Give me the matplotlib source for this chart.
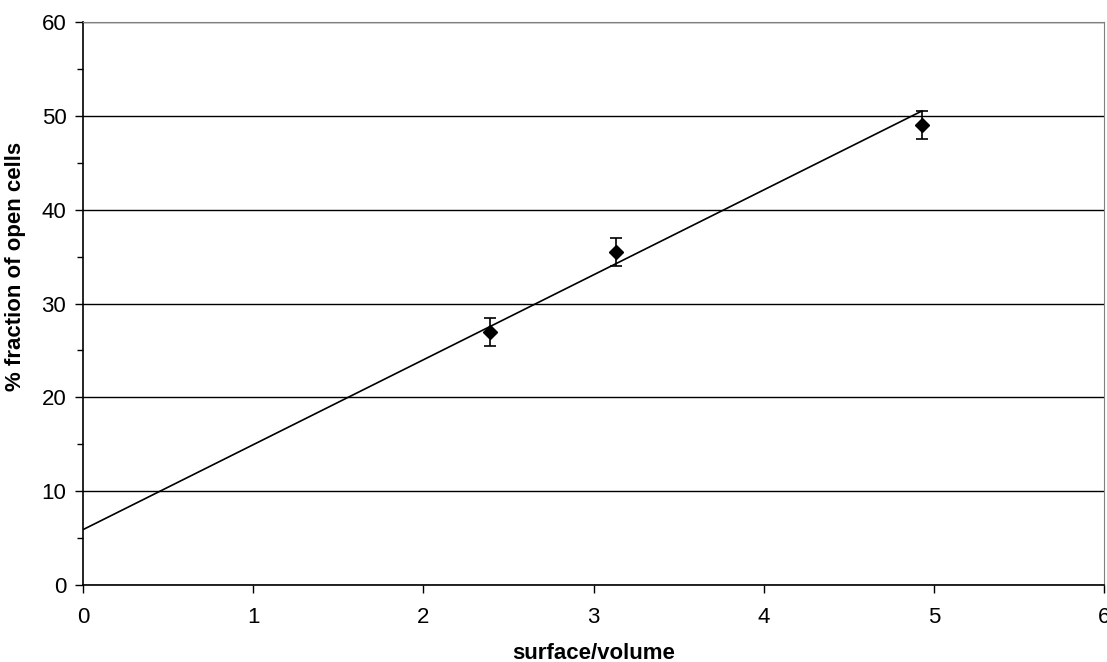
import numpy as np
import matplotlib
matplotlib.use("Agg")
import matplotlib.pyplot as plt
from matplotlib.ticker import MultipleLocator

# data
surf_vol = [2.39, 3.13, 4.93]
open_frac = [27.0, 35.5, 49.0]
open_err = [1.5, 1.5, 1.5]

# trendline (as drawn in the reference)
trend_slope = 9.05
trend_intercept = 5.9
trend_x = [0.0, 4.93]

plt.rcParams['font.family'] = ['Liberation Sans', 'DejaVu Sans']

fig = plt.figure(figsize=(11.07, 6.62), dpi=100)
ax = fig.add_axes([83 / 1107, 77 / 662, 1021 / 1107, 563 / 662])

ax.set_xlim(0, 6)
ax.set_ylim(0, 60)

# horizontal gridlines at the major y ticks
ax.yaxis.set_major_locator(MultipleLocator(10))
ax.yaxis.set_minor_locator(MultipleLocator(5))
ax.xaxis.set_major_locator(MultipleLocator(1))
ax.grid(axis='y', which='major', color='black', linewidth=1.0)
ax.set_axisbelow(True)

tx = np.array(trend_x)
ax.plot(tx, trend_intercept + trend_slope * tx, color='black', linewidth=1.2, zorder=3)

ax.errorbar(surf_vol, open_frac, yerr=open_err, fmt='D', color='black',
            markersize=7, elinewidth=1.2, capsize=4, capthick=1.2, zorder=4)

for side in ['top', 'right']:
    ax.spines[side].set_color('#808080')
for side in ['left', 'bottom']:
    ax.spines[side].set_color('black')
    ax.spines[side].set_linewidth(1.2)

ax.tick_params(axis='both', which='major', direction='out', length=6, width=1.0,
               labelsize=16)
ax.tick_params(axis='y', which='minor', direction='out', length=4, width=1.0)
ax.tick_params(axis='y', which='major', pad=6)
ax.tick_params(axis='x', which='major', pad=10)

ax.set_xlabel('surface/volume', fontsize=16, fontweight='bold')
ax.set_ylabel('% fraction of open cells', fontsize=16, fontweight='bold')
ax.xaxis.set_label_coords(0.5, -0.103)
ax.yaxis.set_label_coords(-0.056, 0.565)

fig.savefig('out.png', dpi=100)
